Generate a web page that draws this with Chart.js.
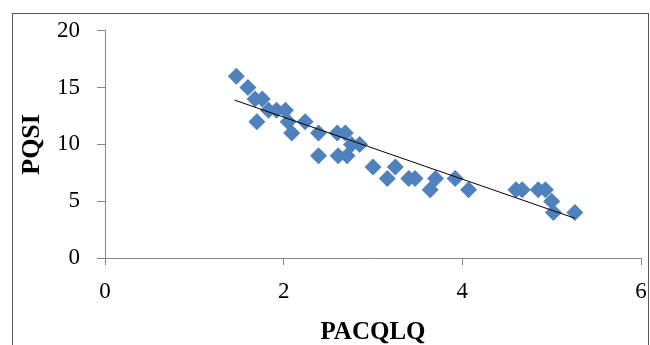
<!DOCTYPE html>
<html>
<head>
<meta charset="utf-8">
<script src="https://cdn.jsdelivr.net/npm/chart.js@4.4.1/dist/chart.umd.min.js"></script>
<style>
  html, body { margin: 0; padding: 0; background: #fff; overflow: hidden; }
  #frame { position: absolute; left: 12px; top: 13px; width: 635px; height: 400px; border: 1px solid #555; }
  #wrap { position: absolute; left: 0; top: 0; width: 650px; height: 345px; }
</style>
</head>
<body>
<div id="frame"></div>
<div id="wrap"><canvas id="chart" width="650" height="345"></canvas></div>
<script>
// values
const pacqlq = [1.47, 1.6, 1.68, 1.76, 1.7, 1.83, 1.92, 2.02, 2.05, 2.09, 2.24, 2.39, 2.39, 2.6, 2.69, 2.61, 2.71, 2.76, 2.85, 3.0, 3.16, 3.25, 3.4, 3.47, 3.64, 3.7, 3.92, 4.07, 4.6, 4.67, 4.85, 4.93, 5.0, 5.02, 5.26]
const pqsi   = [16, 15, 14, 14, 12, 13, 13, 13, 12, 11, 12, 11, 9, 11, 11, 9, 9, 10, 10, 8, 7, 8, 7, 7, 6, 7, 7, 6, 6, 6, 6, 6, 5, 4, 4]
const trendX = [1.45, 5.26]
const trendY = [13.9, 3.5]
const xTicks = [0, 2, 4, 6]
const yTicks = [0, 5, 10, 15, 20]

const points = pacqlq.map((x, i) => ({x: x, y: pqsi[i]}))
const trend = trendX.map((x, i) => ({x: x, y: trendY[i]}))

const axisColor = '#868686'
const serif = "'Liberation Serif', 'Times New Roman', serif"

new Chart(document.getElementById('chart'), {
    type: 'scatter',
    data: {
        datasets: [
            {
                data: trend,
                type: 'line',
                borderColor: '#000',
                borderWidth: 1,
                pointRadius: 0,
                fill: false,
                order: 0
            },
            {
                data: points,
                pointStyle: 'rectRot',
                pointRadius: 8.5,
                pointBackgroundColor: '#4F81BD',
                pointBorderWidth: 0,
                order: 1
            }
        ]
    },
    options: {
        responsive: false,
        animation: false,
        layout: { padding: { left: 0, right: 0, top: 30, bottom: 0 } },
        plugins: { legend: { display: false }, tooltip: { enabled: false } },
        scales: {
            x: {
                type: 'linear',
                min: 0, max: 6,
                afterBuildTicks: s => { s.ticks = xTicks.map(v => ({value: v})) },
                afterFit: s => { s.height = 87; s.paddingRight = 9 },
                grid: { drawOnChartArea: false, drawTicks: true, tickLength: 7, color: axisColor },
                border: { color: axisColor, width: 1 },
                ticks: { color: '#000', font: { family: serif, size: 23 }, padding: 13, maxRotation: 0 },
                title: { display: true, text: 'PACQLQ', color: '#000', font: { family: serif, size: 25, weight: 'bold', lineHeight: 1.0 }, padding: { top: 4, bottom: 0 } }
            },
            y: {
                type: 'linear',
                min: 0, max: 20,
                afterBuildTicks: s => { s.ticks = yTicks.map(v => ({value: v})) },
                afterFit: s => { s.width = 105 },
                grid: { drawOnChartArea: false, drawTicks: true, tickLength: 8, color: axisColor },
                border: { color: axisColor, width: 1 },
                ticks: { color: '#000', font: { family: serif, size: 23 }, padding: 17 },
                title: { display: true, text: 'PQSI', color: '#000', font: { family: serif, size: 26, weight: 'bold' }, padding: { top: 17, bottom: 4 } }
            }
        }
    }
})
</script>
</body>
</html>
